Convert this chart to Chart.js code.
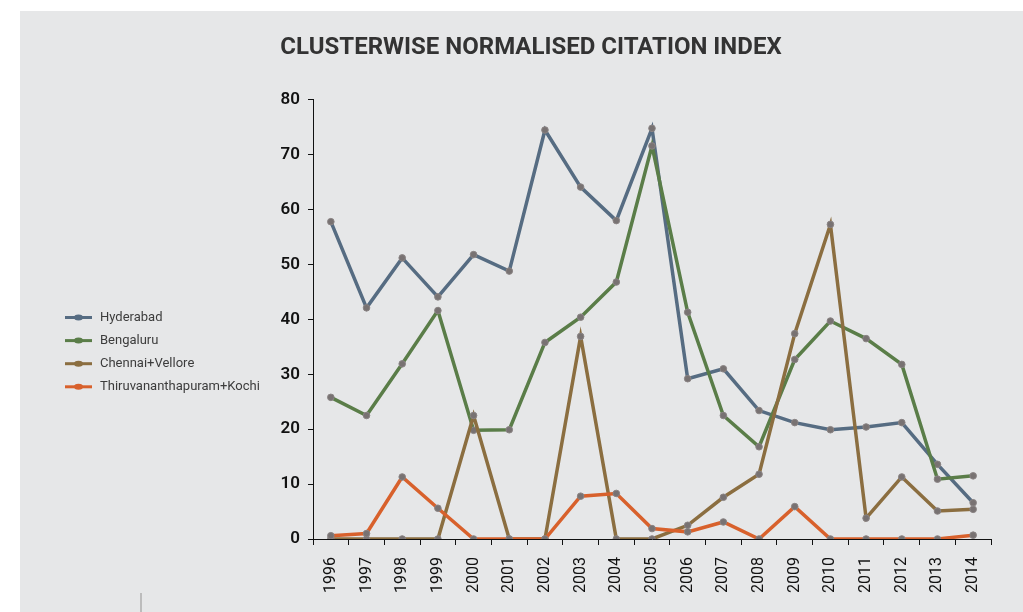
<!DOCTYPE html>
<html>
<head>
<meta charset="utf-8">
<title>Clusterwise Normalised Citation Index</title>
<script src="https://cdn.jsdelivr.net/npm/chart.js@4"></script>
<style>
  html, body { margin: 0; padding: 0; background: #fff; }
  #wrap { width: 1023px; height: 612px; position: relative; }
</style>
</head>
<body>
<div id="wrap"><canvas id="chart" width="1023" height="612"></canvas></div>
<script>
// Years on the x axis
const years = ['1996', '1997', '1998', '1999', '2000', '2001', '2002', '2003', '2004', '2005',
               '2006', '2007', '2008', '2009', '2010', '2011', '2012', '2013', '2014'];

// Normalised citation index per cluster
const hyderabad = [57.8, 42.1, 51.2, 44.1, 51.8, 48.8, 74.5, 64.1, 58.0, 74.8,
                   29.2, 31.0, 23.4, 21.2, 19.9, 20.4, 21.2, 13.6, 6.6];
const bengaluru = [25.8, 22.5, 31.9, 41.6, 19.8, 19.9, 35.8, 40.4, 46.8, 71.6,
                   41.3, 22.5, 16.8, 32.7, 39.7, 36.5, 31.8, 10.9, 11.5];
const chennaiVellore = [0, 0, 0, 0, 22.5, 0, 0, 36.9, 0, 0,
                        2.5, 7.6, 11.8, 37.4, 57.3, 3.8, 11.3, 5.1, 5.4];
const thiruKochi = [0.6, 1.0, 11.3, 5.6, 0, 0, 0, 7.8, 8.3, 1.9,
                    1.3, 3.1, 0, 5.9, 0, 0, 0, 0, 0.7];

const yTicks = [0, 10, 20, 30, 40, 50, 60, 70, 80];

const seriesNames = ['Hyderabad', 'Bengaluru', 'Chennai+Vellore', 'Thiruvananthapuram+Kochi'];
const seriesColors = ['#566c82', '#5a7d48', '#8b6e40', '#d8612c'];

function makeSeries(i, values, order) {
    return {
        label: seriesNames[i],
        data: values,
        borderColor: seriesColors[i],
        backgroundColor: seriesColors[i],
        borderWidth: 3.5,
        tension: 0,
        pointRadius: 3.3,
        pointBackgroundColor: '#787272',
        pointBorderColor: '#8a8484',
        pointBorderWidth: 1,
        order: order
    };
}

// page background panel and the small rule at the bottom left
const backdrop = {
    id: 'backdrop',
    beforeDraw(chart) {
        const ctx = chart.ctx;
        ctx.save();
        ctx.fillStyle = '#ffffff';
        ctx.fillRect(0, 0, chart.width, chart.height);
        ctx.fillStyle = '#e6e7e8';
        ctx.fillRect(20, 11, chart.width - 20, chart.height - 11);
        ctx.strokeStyle = '#bcbcbc';
        ctx.lineWidth = 2;
        ctx.beginPath();
        ctx.moveTo(141, 593);
        ctx.lineTo(141, chart.height);
        ctx.stroke();
        ctx.restore();
    }
};

// legend on the left, one row per series with a line-and-marker swatch
const sideLegend = {
    id: 'sideLegend',
    afterDraw(chart) {
        const ctx = chart.ctx;
        ctx.save();
        const top = 317.5, step = 23.1;
        seriesNames.forEach((name, i) => {
            const y = top + i * step;
            ctx.strokeStyle = seriesColors[i];
            ctx.lineWidth = 3;
            ctx.beginPath();
            ctx.moveTo(65, y);
            ctx.lineTo(92, y);
            ctx.stroke();
            ctx.fillStyle = seriesColors[i];
            ctx.beginPath();
            ctx.ellipse(78.5, y, 4.5, 3, 0, 0, Math.PI * 2);
            ctx.fill();
            ctx.fillStyle = '#3c3c3c';
            ctx.font = '13px Roboto';
            ctx.textBaseline = 'middle';
            ctx.fillText(name, 100, y);
        });
        ctx.restore();
    }
};

const ctx = document.getElementById('chart').getContext('2d');
new Chart(ctx, {
    type: 'line',
    data: {
        labels: years,
        datasets: [
            makeSeries(0, hyderabad, 3),
            makeSeries(1, bengaluru, 2),
            makeSeries(2, chennaiVellore, 1),
            makeSeries(3, thiruKochi, 0)
        ]
    },
    options: {
        responsive: false,
        animation: false,
        layout: {
            padding: { left: 71, right: 32, top: 11, bottom: 0 }
        },
        scales: {
            x: {
                offset: true,
                grid: {
                    display: true,
                    offset: true,
                    drawOnChartArea: false,
                    drawTicks: true,
                    tickLength: 6,
                    color: '#111'
                },
                border: { display: true, color: '#111', width: 1 },
                ticks: {
                    color: '#111',
                    font: { family: 'Roboto', size: 16 },
                    maxRotation: 90,
                    minRotation: 90,
                    padding: 12,
                    autoSkip: false
                },
                afterFit(scale) { scale.height = 73; }
            },
            y: {
                min: 0,
                max: 80,
                afterBuildTicks(scale) {
                    scale.ticks = yTicks.map(v => ({ value: v }));
                },
                grid: {
                    display: true,
                    drawOnChartArea: false,
                    drawTicks: true,
                    tickLength: 5,
                    color: '#111'
                },
                border: { display: true, color: '#111', width: 1 },
                ticks: {
                    color: '#111',
                    font: { family: 'Roboto', size: 17, weight: '600' },
                    padding: 8
                },
                afterFit(scale) { scale.width = 242; }
            }
        },
        plugins: {
            legend: { display: false },
            tooltip: { enabled: false },
            title: {
                display: true,
                text: 'CLUSTERWISE NORMALISED CITATION INDEX',
                color: '#333333',
                font: { family: 'Roboto', size: 24, weight: 'bold' },
                padding: { top: 23, bottom: 37 }
            }
        }
    },
    plugins: [backdrop, sideLegend]
});
</script>
</body>
</html>
